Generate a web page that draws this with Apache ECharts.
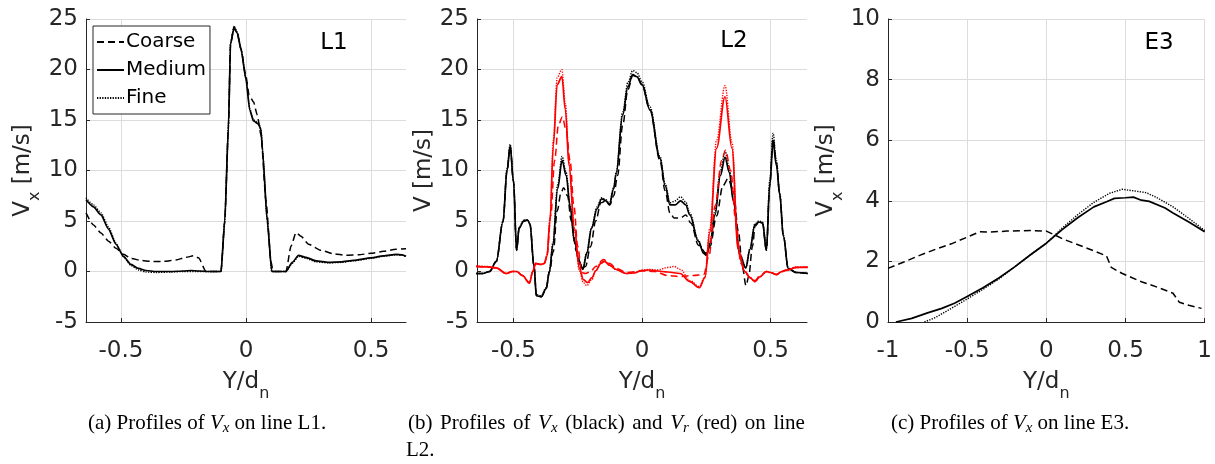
<!DOCTYPE html>
<html>
<head>
<meta charset="utf-8">
<script src="https://cdn.jsdelivr.net/npm/echarts@6/dist/echarts.min.js"></script>
<style>
  html, body { margin: 0; padding: 0; background: #ffffff; }
  #chart { width: 1215px; height: 464px; }
</style>
</head>
<body>
<div id="chart"></div>
<script>
// ---------- data ----------
const xTicksNarrow = [-0.5, 0, 0.5];
const legendNames = ['Coarse', 'Medium', 'Fine'];
const panelTags = ['L1', 'L2', 'E3'];

// Panel (a) : Vx on line L1
const l1Coarse = [[-0.64,5.8],[-0.61,4.6],[-0.58,3.8],[-0.55,3.0],[-0.52,2.3],[-0.49,1.7],[-0.46,1.3],[-0.42,1.1],[-0.38,1.0],[-0.33,1.0],[-0.28,1.15],[-0.24,1.4],[-0.21,1.55],[-0.19,1.35],[-0.16,0.0],[-0.10,0.0],[-0.085,5.0],[-0.07,14.5],[-0.062,22.5],[-0.048,24.2],[-0.035,23.6],[-0.02,22.0],[0.0,19.3],[0.012,17.5],[0.03,16.8],[0.045,15.5],[0.06,13.5],[0.08,7.0],[0.1,1.0],[0.108,0.0],[0.16,0.0],[0.18,2.5],[0.2,3.85],[0.22,3.5],[0.25,2.7],[0.3,2.1],[0.35,1.75],[0.4,1.6],[0.45,1.65],[0.5,1.8],[0.55,2.0],[0.6,2.2],[0.64,2.25]];
const l1Medium = [[-0.64,7.1],[-0.61,6.4],[-0.58,5.6],[-0.55,4.2],[-0.52,2.7],[-0.49,1.5],[-0.46,0.7],[-0.43,0.3],[-0.40,0.1],[-0.36,0.0],[-0.30,0.0],[-0.25,0.05],[-0.22,0.1],[-0.19,0.05],[-0.15,0.0],[-0.10,0.0],[-0.085,5.0],[-0.07,14.5],[-0.062,22.5],[-0.048,24.1],[-0.035,23.6],[-0.02,22.0],[0.0,19.0],[0.015,16.0],[0.03,14.9],[0.05,14.6],[0.06,14.0],[0.066,12.0],[0.085,5.0],[0.103,0.0],[0.16,0.0],[0.185,0.9],[0.21,1.6],[0.24,1.4],[0.28,1.05],[0.33,0.9],[0.38,0.95],[0.43,1.1],[0.5,1.35],[0.55,1.55],[0.6,1.7],[0.625,1.65],[0.64,1.5]];
const l1Fine = [[-0.64,7.3],[-0.61,6.6],[-0.58,5.8],[-0.55,4.4],[-0.52,2.8],[-0.49,1.45],[-0.46,0.6],[-0.43,0.15],[-0.40,-0.05],[-0.36,-0.1],[-0.30,-0.05],[-0.25,0.0],[-0.20,0.0],[-0.15,0.0],[-0.10,0.0],[-0.085,5.0],[-0.07,14.6],[-0.062,22.6],[-0.048,24.3],[-0.035,23.7],[-0.02,22.1],[0.0,19.1],[0.015,16.1],[0.03,15.0],[0.05,14.7],[0.06,14.1],[0.066,12.0],[0.085,5.0],[0.103,0.0],[0.16,0.0],[0.185,0.8],[0.21,1.5],[0.24,1.3],[0.28,0.95],[0.33,0.85],[0.38,0.9],[0.43,1.05],[0.5,1.3],[0.55,1.5],[0.6,1.65],[0.625,1.6],[0.64,1.45]];

// Panel (b) : Vx (black) and Vr (red) on line L2
const l2VxCoarse = [[-0.645,-0.2],[-0.62,-0.2],[-0.593,0.0],[-0.567,1.0],[-0.541,4.9],[-0.525,10.0],[-0.513,12.4],[-0.50,8.9],[-0.488,2.1],[-0.478,4.3],[-0.46,5.0],[-0.445,5.1],[-0.436,4.7],[-0.42,0.5],[-0.411,-2.4],[-0.392,-2.5],[-0.373,-1.7],[-0.36,0.0],[-0.345,2.0],[-0.33,6.0],[-0.315,7.8],[-0.305,8.3],[-0.29,7.5],[-0.275,5.0],[-0.255,2.0],[-0.235,0.4],[-0.22,0.5],[-0.2,2.5],[-0.18,5.0],[-0.16,6.8],[-0.14,7.0],[-0.125,6.6],[-0.11,7.5],[-0.095,9.5],[-0.075,14.5],[-0.055,18.0],[-0.036,19.4],[-0.02,19.3],[0.0,18.5],[0.031,16.0],[0.07,11.0],[0.09,8.0],[0.109,5.8],[0.125,5.3],[0.15,5.3],[0.17,5.6],[0.19,4.8],[0.22,2.6],[0.25,1.8],[0.265,2.5],[0.29,5.5],[0.315,8.5],[0.335,9.2],[0.355,8.0],[0.375,4.0],[0.39,0.5],[0.405,-1.4],[0.415,-0.5],[0.43,2.5],[0.44,4.5],[0.455,4.9],[0.469,4.8],[0.484,2.1],[0.497,8.5],[0.51,13.2],[0.523,10.8],[0.536,7.6],[0.55,3.5],[0.569,0.3],[0.6,-0.1],[0.645,-0.2]];
const l2VxMedium = [[-0.645,-0.2],[-0.62,-0.2],[-0.593,0.0],[-0.567,1.0],[-0.541,4.9],[-0.525,10.0],[-0.513,12.4],[-0.50,8.9],[-0.488,2.1],[-0.478,4.3],[-0.46,5.0],[-0.445,5.1],[-0.436,4.7],[-0.42,0.5],[-0.411,-2.4],[-0.392,-2.5],[-0.373,-1.7],[-0.36,0.0],[-0.347,2.6],[-0.328,8.2],[-0.311,11.0],[-0.295,9.5],[-0.28,6.5],[-0.263,3.0],[-0.245,1.0],[-0.23,0.2],[-0.215,1.8],[-0.196,4.3],[-0.175,6.2],[-0.157,7.2],[-0.14,7.0],[-0.127,6.6],[-0.11,8.2],[-0.101,9.6],[-0.075,15.5],[-0.055,18.3],[-0.036,19.5],[-0.02,19.3],[0.0,18.5],[0.031,16.0],[0.07,11.2],[0.09,8.5],[0.109,6.6],[0.13,6.6],[0.15,7.0],[0.17,6.6],[0.186,5.6],[0.219,3.0],[0.24,1.8],[0.251,1.6],[0.265,2.8],[0.284,5.6],[0.305,9.5],[0.323,11.3],[0.34,9.8],[0.355,7.0],[0.381,1.6],[0.404,0.35],[0.42,2.2],[0.439,4.6],[0.455,4.9],[0.469,4.8],[0.484,2.1],[0.497,8.5],[0.51,12.8],[0.523,10.5],[0.536,7.6],[0.55,3.5],[0.569,0.3],[0.6,-0.1],[0.645,-0.2]];
const l2VxFine = [[-0.645,-0.2],[-0.62,-0.2],[-0.593,0.0],[-0.567,1.0],[-0.541,5.0],[-0.525,10.2],[-0.513,12.6],[-0.50,9.0],[-0.488,2.2],[-0.478,4.4],[-0.46,5.1],[-0.445,5.1],[-0.436,4.7],[-0.42,0.5],[-0.411,-2.3],[-0.392,-2.4],[-0.373,-1.6],[-0.36,0.1],[-0.347,2.8],[-0.328,8.6],[-0.311,11.4],[-0.295,9.8],[-0.28,6.6],[-0.263,3.0],[-0.245,1.0],[-0.23,0.3],[-0.215,1.9],[-0.196,4.4],[-0.175,6.4],[-0.157,7.3],[-0.14,7.1],[-0.127,6.7],[-0.11,8.3],[-0.101,9.8],[-0.075,15.8],[-0.055,18.7],[-0.036,19.9],[-0.02,19.7],[0.0,18.8],[0.031,16.3],[0.07,11.4],[0.09,8.7],[0.109,6.8],[0.13,7.0],[0.15,7.4],[0.17,6.9],[0.186,5.8],[0.219,3.1],[0.24,1.9],[0.251,1.7],[0.265,3.0],[0.284,6.0],[0.305,10.0],[0.323,11.9],[0.34,10.2],[0.355,7.2],[0.381,1.7],[0.404,0.4],[0.42,2.3],[0.439,4.7],[0.455,5.0],[0.469,4.9],[0.484,2.2],[0.497,9.0],[0.51,13.7],[0.523,11.0],[0.536,7.8],[0.55,3.6],[0.569,0.3],[0.6,-0.1],[0.645,-0.2]];
const l2VrCoarse = [[-0.645,0.5],[-0.6,0.45],[-0.567,0.35],[-0.528,-0.2],[-0.505,0.0],[-0.488,0.0],[-0.465,-0.4],[-0.438,-1.1],[-0.425,0.0],[-0.414,0.8],[-0.395,0.7],[-0.38,0.8],[-0.37,1.5],[-0.355,5.5],[-0.34,11.0],[-0.325,14.5],[-0.31,15.3],[-0.295,14.0],[-0.28,11.0],[-0.265,6.5],[-0.25,2.5],[-0.235,-0.1],[-0.22,-0.2],[-0.2,0.0],[-0.18,0.5],[-0.15,1.2],[-0.125,0.8],[-0.1,0.3],[-0.06,-0.1],[0.0,0.05],[0.05,0.0],[0.1,-0.4],[0.15,-0.5],[0.2,-0.4],[0.24,-0.3],[0.26,1.5],[0.285,6.5],[0.31,11.0],[0.325,12.0],[0.345,10.0],[0.365,5.0],[0.385,0.8],[0.4,0.0],[0.42,-0.6],[0.439,-0.9],[0.46,-0.4],[0.484,0.0],[0.5,-0.1],[0.523,-0.3],[0.545,0.0],[0.56,0.15],[0.6,0.4],[0.645,0.45]];
const l2VrMedium = [[-0.645,0.5],[-0.6,0.45],[-0.567,0.35],[-0.528,-0.2],[-0.505,0.0],[-0.488,0.0],[-0.465,-0.4],[-0.438,-1.15],[-0.425,0.0],[-0.414,0.8],[-0.395,0.7],[-0.38,0.8],[-0.37,1.5],[-0.358,5.0],[-0.345,12.5],[-0.33,18.5],[-0.312,19.3],[-0.298,16.0],[-0.284,10.5],[-0.263,4.3],[-0.244,0.35],[-0.228,-0.8],[-0.212,-1.1],[-0.195,-0.6],[-0.179,0.1],[-0.16,0.8],[-0.146,1.0],[-0.125,0.6],[-0.101,0.2],[-0.062,-0.2],[-0.03,-0.15],[0.0,0.1],[0.03,0.15],[0.06,0.05],[0.1,-0.05],[0.148,-0.2],[0.186,-1.0],[0.223,-1.6],[0.245,-0.6],[0.264,3.9],[0.29,12.2],[0.323,17.3],[0.35,12.2],[0.374,2.2],[0.4,0.0],[0.42,-0.6],[0.439,-1.0],[0.46,-0.5],[0.484,0.0],[0.5,-0.1],[0.523,-0.3],[0.545,0.0],[0.56,0.1],[0.6,0.4],[0.645,0.4]];
const l2VrFine = [[-0.645,0.55],[-0.6,0.5],[-0.567,0.35],[-0.528,-0.2],[-0.505,0.0],[-0.488,0.0],[-0.465,-0.4],[-0.438,-1.15],[-0.425,0.0],[-0.414,0.8],[-0.395,0.7],[-0.38,0.8],[-0.37,1.6],[-0.358,5.3],[-0.345,13.0],[-0.33,19.2],[-0.312,20.0],[-0.298,16.6],[-0.284,10.8],[-0.263,4.2],[-0.244,0.1],[-0.228,-1.1],[-0.215,-1.4],[-0.195,-0.8],[-0.179,0.1],[-0.16,0.9],[-0.146,1.1],[-0.125,0.6],[-0.101,0.2],[-0.062,-0.2],[-0.03,-0.1],[0.0,0.15],[0.03,0.2],[0.06,0.15],[0.1,0.4],[0.125,0.5],[0.15,0.2],[0.186,-0.9],[0.223,-1.5],[0.245,-0.5],[0.264,4.3],[0.29,13.0],[0.323,18.4],[0.35,12.8],[0.374,2.3],[0.4,0.0],[0.42,-0.6],[0.439,-1.0],[0.46,-0.5],[0.484,0.0],[0.5,-0.1],[0.523,-0.3],[0.545,0.0],[0.56,0.15],[0.6,0.45],[0.645,0.45]];

// Panel (c) : Vx on line E3
const e3Coarse = [[-1.0,1.77],[-0.9,1.98],[-0.8,2.2],[-0.7,2.4],[-0.6,2.58],[-0.5,2.8],[-0.42,2.98],[-0.35,2.97],[-0.25,3.0],[-0.1,3.02],[0.0,3.0],[0.05,2.88],[0.1,2.75],[0.2,2.55],[0.3,2.35],[0.38,2.18],[0.41,1.8],[0.48,1.6],[0.6,1.33],[0.7,1.15],[0.8,0.95],[0.84,0.65],[0.9,0.55],[0.98,0.45]];
const e3Medium = [[-0.95,0.0],[-0.85,0.12],[-0.75,0.3],[-0.66,0.45],[-0.58,0.62],[-0.5,0.84],[-0.4,1.13],[-0.3,1.45],[-0.2,1.82],[-0.1,2.22],[0.0,2.6],[0.1,3.05],[0.2,3.45],[0.3,3.8],[0.38,3.97],[0.43,4.08],[0.5,4.1],[0.55,4.12],[0.6,4.02],[0.65,3.98],[0.75,3.76],[0.8,3.6],[0.9,3.3],[1.0,2.98]];
const e3Fine = [[-0.77,0.0],[-0.7,0.15],[-0.6,0.45],[-0.5,0.76],[-0.4,1.08],[-0.3,1.42],[-0.2,1.82],[-0.1,2.22],[0.0,2.6],[0.1,3.1],[0.2,3.55],[0.3,3.95],[0.4,4.25],[0.48,4.38],[0.55,4.33],[0.63,4.27],[0.7,4.1],[0.8,3.8],[0.9,3.42],[1.0,3.02]];

// ---------- styling helpers ----------
const SANS = 'DejaVu Sans';
const SERIF = 'Liberation Serif';
const AX = '#262626';
const GRIDC = '#dcdcdc';
const dashStyle = { coarse: [7, 4], medium: 'solid', fine: [1.3, 1.3] };
const widthStyle = { coarse: 1.5, medium: 1.7, fine: 1.4 };

const nameRich = {
  a: { fontFamily: SANS, fontSize: 23, lineHeight: 40, color: AX },
  b: { fontFamily: SANS, fontSize: 16, lineHeight: 16, verticalAlign: 'bottom', color: AX }
};

function xAxisCfg(idx, min, max, interval, custom) {
  const c = {
    type: 'value', gridIndex: idx, min: min, max: max,
    name: '{a|Y/d}{b|n}', nameLocation: 'middle', nameGap: 40,
    nameTextStyle: { rich: nameRich },
    axisLine: { show: true, onZero: false, lineStyle: { color: AX, width: 1 } },
    axisTick: { show: true, inside: true, length: 4, lineStyle: { color: AX } },
    axisLabel: { color: AX, fontFamily: SANS, fontSize: 23, margin: 18 },
    splitLine: { show: true, lineStyle: { color: GRIDC, width: 1 } }
  };
  if (custom) {
    c.axisTick.customValues = custom;
    c.axisLabel.customValues = custom;
  } else {
    c.interval = interval;
  }
  return c;
}
function yAxisCfg(idx, min, max, interval, name, gap) {
  return {
    type: 'value', gridIndex: idx, min: min, max: max, interval: interval,
    name: name, nameLocation: 'middle', nameGap: gap, nameRotate: 90,
    nameTextStyle: { rich: nameRich },
    axisLine: { show: true, onZero: false, lineStyle: { color: AX, width: 1 } },
    axisTick: { show: true, inside: true, length: 4, lineStyle: { color: AX } },
    axisLabel: { color: AX, fontFamily: SANS, fontSize: 23, margin: 8 },
    splitLine: { show: true, lineStyle: { color: GRIDC, width: 1 } }
  };
}
function mkSeries(name, data, idx, kind, color, smooth) {
  return {
    type: 'line', name: name, data: data,
    xAxisIndex: idx, yAxisIndex: idx,
    symbol: 'none', showSymbol: false, silent: true,
    smooth: smooth, smoothMonotone: 'x',
    lineStyle: { color: color, width: widthStyle[kind], type: dashStyle[kind] },
    itemStyle: { color: color },
    emphasis: { disabled: true },
    animation: false
  };
}

const capRich = {
  n: { fontFamily: SERIF, fontSize: 21, lineHeight: 26, fill: '#000' },
  i: { fontFamily: SERIF, fontSize: 21, lineHeight: 26, fontStyle: 'italic', fill: '#000' },
  s: { fontFamily: SERIF, fontSize: 15, lineHeight: 15, fontStyle: 'italic', verticalAlign: 'bottom', fill: '#000' },
  w: { fontFamily: SERIF, fontSize: 21, lineHeight: 26, width: 7.6, fill: '#000' }
};
function tagText(label, cx, cy) {
  return { type: 'text', x: cx, y: cy, silent: true,
    style: { text: label, fontFamily: SANS, fontSize: 23, fill: '#000', align: 'center', verticalAlign: 'middle' } };
}
function capText(text, x, y) {
  return { type: 'text', x: x, y: y, silent: true, style: { text: text, rich: capRich, fill: '#000', align: 'left', verticalAlign: 'top' } };
}

const option = {
  animation: false,
  backgroundColor: '#ffffff',
  grid: [
    { left: 86, top: 19, width: 320, height: 303 },
    { left: 477, top: 19, width: 330, height: 303 },
    { left: 888, top: 19, width: 320, height: 303 }
  ],
  xAxis: [
    xAxisCfg(0, -0.64, 0.64, null, xTicksNarrow),
    xAxisCfg(1, -0.642, 0.642, null, xTicksNarrow),
    xAxisCfg(2, -1, 1, 0.5, null)
  ],
  yAxis: [
    yAxisCfg(0, -5, 25, 5, '{a|V}{b|x}{a| [m/s]}', 43),
    yAxisCfg(1, -5, 25, 5, '{a|V [m/s]}', 31),
    yAxisCfg(2, 0, 10, 2, '{a|V}{b|x}{a| [m/s]}', 42)
  ],
  legend: {
    data: legendNames, orient: 'vertical', left: 93, top: 26,
    padding: [6, 4, 6, 3], itemGap: 8, itemWidth: 27, itemHeight: 14,
    selectedMode: false, backgroundColor: '#ffffff',
    borderColor: AX, borderWidth: 1, borderRadius: 0,
    itemStyle: { opacity: 0, color: 'rgba(0,0,0,0)', borderColor: 'rgba(0,0,0,0)', borderWidth: 0 },
    textStyle: { fontFamily: SANS, fontSize: 20, color: '#000', padding: [0, 0, 0, -3] }
  },
  series: [
    mkSeries(legendNames[0], l1Coarse, 0, 'coarse', '#000000', 0.2),
    mkSeries(legendNames[1], l1Medium, 0, 'medium', '#000000', 0.2),
    mkSeries(legendNames[2], l1Fine, 0, 'fine', '#000000', 0.2),
    mkSeries('L2 Vx coarse', l2VxCoarse, 1, 'coarse', '#000000', 0.35),
    mkSeries('L2 Vx medium', l2VxMedium, 1, 'medium', '#000000', 0.35),
    mkSeries('L2 Vx fine', l2VxFine, 1, 'fine', '#000000', 0.35),
    mkSeries('L2 Vr coarse', l2VrCoarse, 1, 'coarse', '#ff0000', 0.35),
    mkSeries('L2 Vr medium', l2VrMedium, 1, 'medium', '#ff0000', 0.35),
    mkSeries('L2 Vr fine', l2VrFine, 1, 'fine', '#ff0000', 0.35),
    mkSeries('E3 coarse', e3Coarse, 2, 'coarse', '#000000', false),
    mkSeries('E3 medium', e3Medium, 2, 'medium', '#000000', false),
    mkSeries('E3 fine', e3Fine, 2, 'fine', '#000000', false)
  ],
  graphic: [
    tagText(panelTags[0], 334, 43),
    tagText(panelTags[1], 734, 41),
    tagText(panelTags[2], 1159, 43),
    capText('{n|(a) Profiles of }{i|V}{s|x}{n| on line L1.}', 88, 410),
    capText('{n|(b)}{w| }{n|Profiles}{w| }{n|of}{w| }{i|V}{s|x}{w| }{n|(black)}{w| }{n|and}{w| }{i|V}{s|r}{w| }{n|(red)}{w| }{n|on}{w| }{n|line}', 408, 410),
    capText('{n|L2.}', 406, 437),
    capText('{n|(c) Profiles of }{i|V}{s|x}{n| on line E3.}', 891, 410)
  ]
};

const chart = echarts.init(document.getElementById('chart'), null, { renderer: 'canvas' });
chart.setOption(option);
</script>
</body>
</html>
